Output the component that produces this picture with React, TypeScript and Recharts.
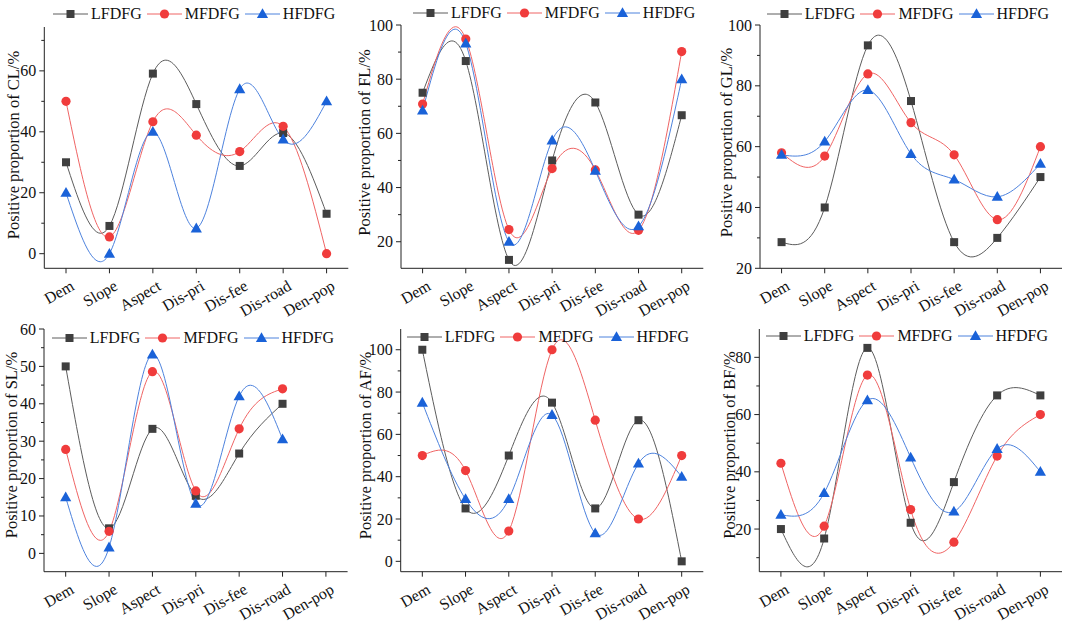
import React from "react";
import { Legend, Line, LineChart, XAxis, YAxis } from "recharts";

const factors = ["Dem", "Slope", "Aspect", "Dis-pri", "Dis-fee", "Dis-road", "Den-pop"];
const groupNames = ["LFDFG", "MFDFG", "HFDFG"];

// CL
const clLow = [30, 9.1, 59.1, 49.1, 28.8, 39.6, 13.1];
const clMid = [50, 5.5, 43.3, 38.9, 33.5, 41.8, 0];
const clHigh = [20, 0, 40, 8.3, 54, 37.5, 50];

// FL
const flLow = [75, 86.7, 13.3, 50, 71.4, 30, 66.7];
const flMid = [70.8, 94.8, 24.5, 47, 46.5, 24.2, 90.2];
const flHigh = [68.4, 93.2, 20, 57.4, 46.2, 25.7, 80];

// GL
const glLow = [28.6, 40, 93.3, 75, 28.6, 30, 50];
const glMid = [58, 56.9, 83.9, 67.9, 57.3, 36, 60];
const glHigh = [57.3, 61.7, 78.6, 57.6, 49.2, 43.5, 54.4];

// SL (no Den-pop value)
const slLow = [50, 6.7, 33.3, 15.4, 26.7, 40, null];
const slMid = [27.8, 5.9, 48.6, 16.7, 33.3, 44, null];
const slHigh = [15, 1.6, 53.2, 13.3, 42, 30.5, null];

// AF
const afLow = [100, 25, 50, 75, 25, 66.7, 0];
const afMid = [50, 42.9, 14.3, 100, 66.7, 20, 50];
const afHigh = [75, 29.4, 29.4, 69.2, 13.3, 46.2, 40];

// BF
const bfLow = [20, 16.7, 83.3, 22.2, 36.4, 66.7, 66.7];
const bfMid = [43, 21, 73.8, 26.8, 15.4, 45.5, 60];
const bfHigh = [25, 32.6, 65, 45, 26.1, 48, 40];

const clTicks = [0, 20, 40, 60];
const flTicks = [20, 40, 60, 80, 100];
const glTicks = [20, 40, 60, 80, 100];
const slTicks = [0, 10, 20, 30, 40, 50, 60];
const afTicks = [0, 20, 40, 60, 80, 100];
const bfTicks = [20, 40, 60, 80];

const clMinor = [10, 30, 50, 70];
const flMinor = [10, 30, 50, 70, 90];
const glMinor = [30, 50, 70, 90];
const slMinor = [-5, 5, 15, 25, 35, 45, 55];
const afMinor = [10, 30, 50, 70, 90, 110];
const bfMinor = [10, 30, 50, 70, 90];

const FONT = '"Liberation Serif", "Times New Roman", serif';
const AXIS = "#222";

const STYLE = [
  { line: "#5c5c5c", fill: "#3f3f3f", marker: "square" },
  { line: "#ef6464", fill: "#f03c3c", marker: "circle" },
  { line: "#4d82dd", fill: "#1a62d8", marker: "triangle" },
];

function buildRows(low, mid, high) {
  return factors.map((f, i) => ({ factor: f, low: low[i], mid: mid[i], high: high[i] }));
}

// box: [left, top, width, height]; plot: [left, top, right, bottom] in page pixels
const panels = [
  { id: "cl", label: "Positive proportion of CL/%", rows: buildRows(clLow, clMid, clHigh), domain: [-4.8, 74.4], ticks: clTicks, minor: clMinor,
    box: [0, 0, 355, 330], plot: [44.3, 27, 348.3, 268.3], labelX: 13, labelY: 145, legend: [53, 14] },
  { id: "fl", label: "Positive proportion of FL/%", rows: buildRows(flLow, flMid, flHigh), domain: [10.2, 100], ticks: flTicks, minor: flMinor,
    box: [355, 0, 350, 330], plot: [401, 25, 703.3, 268.3], labelX: 364, labelY: 142.5, legend: [413, 12.7] },
  { id: "gl", label: "Positive proportion of GL/%", rows: buildRows(glLow, glMid, glHigh), domain: [20, 100], ticks: glTicks, minor: glMinor,
    box: [705, 0, 360, 330], plot: [760, 25, 1062, 268.3], labelX: 726, labelY: 142.5, legend: [766.7, 14] },
  { id: "sl", label: "Positive proportion of SL/%", rows: buildRows(slLow, slMid, slHigh), domain: [-4.9, 60], ticks: slTicks, minor: slMinor,
    box: [0, 314, 355, 315], plot: [44, 329, 347.6, 571.7], labelX: 11, labelY: 445, legend: [51.7, 338] },
  { id: "af", label: "Positive proportion of AF/%", rows: buildRows(afLow, afMid, afHigh), domain: [-4.9, 109.8], ticks: afTicks, minor: afMinor,
    box: [355, 314, 350, 315], plot: [400.7, 329, 703.3, 571.7], labelX: 365, labelY: 445.5, legend: [406.7, 336.7] },
  { id: "bf", label: "Positive proportion of BF/%", rows: buildRows(bfLow, bfMid, bfHigh), domain: [5.1, 89.9], ticks: bfTicks, minor: bfMinor,
    box: [705, 314, 360, 315], plot: [759.3, 329, 1062, 571.7], labelX: 729, labelY: 445, legend: [765.7, 335.7] },
];

function Marker({ kind, cx, cy, fill }) {
  if (kind === "square") return <rect x={cx - 4} y={cy - 4} width={8} height={8} fill={fill} />;
  if (kind === "circle") return <circle cx={cx} cy={cy} r={4.6} fill={fill} />;
  return <polygon points={`${cx},${cy - 5.8} ${cx - 5.6},${cy + 4} ${cx + 5.6},${cy + 4}`} fill={fill} />;
}

function makeDot(idx) {
  const s = STYLE[idx];
  return (props) => {
    const { cx, cy, index, value } = props;
    if (value == null || cy == null || Number.isNaN(cy)) return <g key={`d-${idx}-${index}`} />;
    return (
      <g key={`d-${idx}-${index}`}>
        <Marker kind={s.marker} cx={cx} cy={cy} fill={s.fill} />
      </g>
    );
  };
}

function LegendRow() {
  return (
    <div style={{ display: "flex", alignItems: "center", fontFamily: FONT, fontSize: 16, lineHeight: "18px", whiteSpace: "nowrap", color: "#111" }}>
      {groupNames.map((name, i) => (
        <div key={name} style={{ display: "flex", alignItems: "center", marginRight: 5 }}>
          <svg width={35} height={14} style={{ display: "block" }}>
            <line x1={0} y1={7} x2={35} y2={7} stroke={STYLE[i].line} strokeWidth={1} />
            <Marker kind={STYLE[i].marker} cx={17.5} cy={7} fill={STYLE[i].fill} />
          </svg>
          <span style={{ marginLeft: 3 }}>{name}</span>
        </div>
      ))}
    </div>
  );
}

function YTick(props) {
  const { x, y, payload, majors } = props;
  const major = majors.includes(payload.value);
  return (
    <g>
      <line x1={x} x2={x - (major ? 5 : 3)} y1={y} y2={y} stroke={AXIS} strokeWidth={1} />
      {major && (
        <text x={x - 8} y={y} textAnchor="end" dominantBaseline="central" fontFamily={FONT} fontSize={16} fill="#111">
          {payload.value}
        </text>
      )}
    </g>
  );
}

function XTick(props) {
  const { x, y, payload } = props;
  const tx = x + 6.5;
  const ty = y + 16;
  return (
    <g>
      <line x1={x} x2={x} y1={y} y2={y + 5} stroke={AXIS} strokeWidth={1} />
      <text x={tx} y={ty} textAnchor="end" dominantBaseline="central" transform={`rotate(-30 ${tx} ${ty})`} fontFamily={FONT} fontSize={16} fill="#111">
        {payload.value}
      </text>
    </g>
  );
}

function Panel({ p }) {
  const [left, top, width, height] = p.box;
  const [pl, pt, pr, pb] = p.plot;
  const halfBand = (pr - pl) / 14;
  const allTicks = [...p.ticks, ...p.minor].filter((t) => t >= p.domain[0] && t <= p.domain[1]).sort((a, b) => a - b);
  const lx = p.labelX - left;
  const ly = p.labelY - top;
  return (
    <div style={{ position: "absolute", left, top, width, height }}>
      <LineChart
        width={width}
        height={height}
        data={p.rows}
        margin={{ top: pt - top, right: left + width - pr, bottom: 0, left: 0 }}
      >
        <XAxis
          dataKey="factor"
          interval={0}
          height={top + height - pb}
          padding={{ left: halfBand, right: halfBand }}
          axisLine={{ stroke: AXIS, strokeWidth: 1 }}
          tickLine={false}
          tickSize={0}
          tickMargin={0}
          tick={<XTick />}
        />
        <YAxis
          type="number"
          domain={p.domain}
          allowDataOverflow
          ticks={allTicks}
          interval={0}
          width={pl - left}
          axisLine={{ stroke: AXIS, strokeWidth: 1 }}
          tickLine={false}
          tickSize={0}
          tickMargin={0}
          tick={<YTick majors={p.ticks} />}
          label={{
            content: () => (
              <text x={lx} y={ly} transform={`rotate(-90 ${lx} ${ly})`} textAnchor="middle" dominantBaseline="central" fontFamily={FONT} fontSize={16.5} fill="#111">
                {p.label}
              </text>
            ),
          }}
        />
        <Legend
          layout="horizontal"
          verticalAlign="middle"
          align="center"
          wrapperStyle={{ left: p.legend[0] - left, top: p.legend[1] - top - 9, width: "auto" }}
          content={() => <LegendRow />}
        />
        {["low", "mid", "high"].map((key, i) => (
          <Line
            key={key}
            type="natural"
            dataKey={key}
            name={groupNames[i]}
            stroke={STYLE[i].line}
            strokeWidth={1}
            dot={makeDot(i)}
            activeDot={false}
            isAnimationActive={false}
          />
        ))}
      </LineChart>
    </div>
  );
}

export default function App() {
  return (
    <div style={{ position: "absolute", left: 0, top: 0, width: 1065, height: 629, background: "#fff", overflow: "hidden" }}>
      {panels.map((p) => (
        <Panel key={p.id} p={p} />
      ))}
    </div>
  );
}
